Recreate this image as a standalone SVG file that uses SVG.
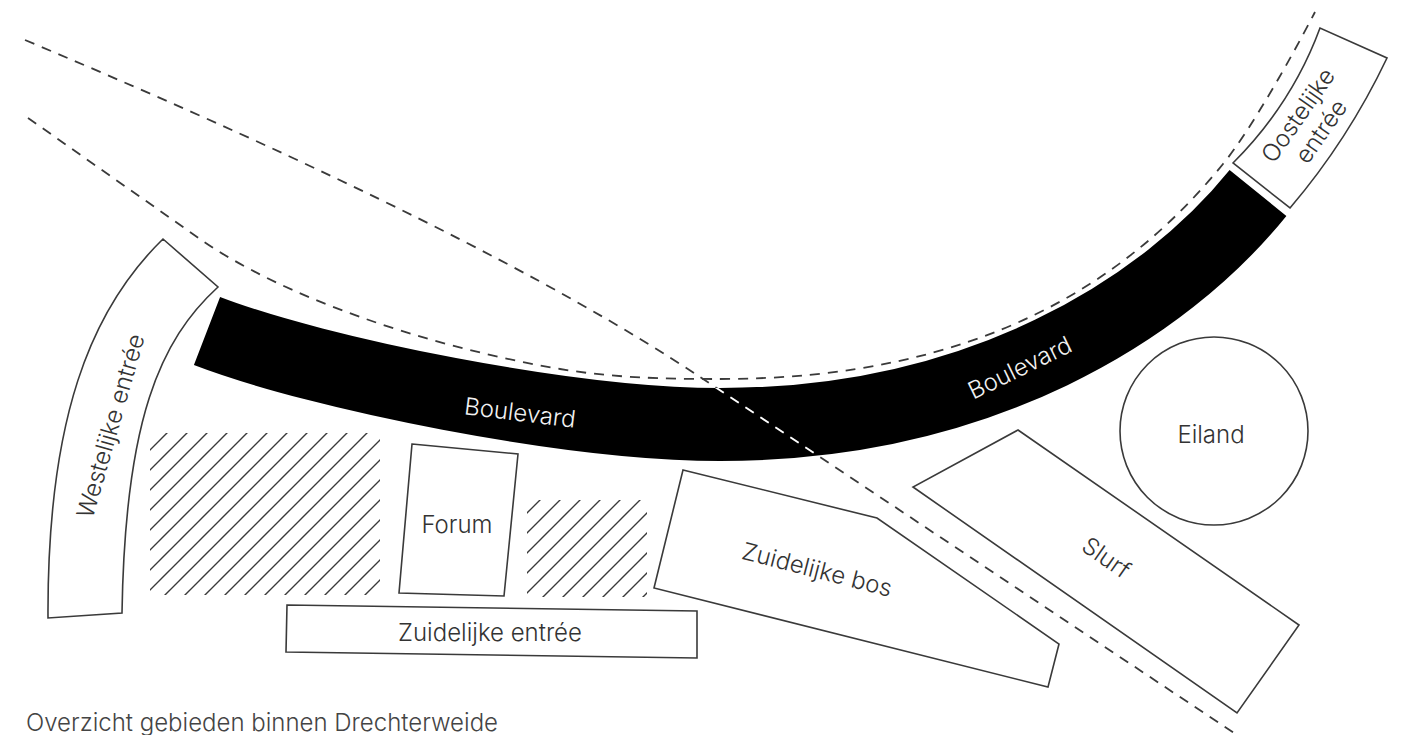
<svg xmlns="http://www.w3.org/2000/svg" width="1404" height="735" viewBox="0 0 1404 735">
<style>
.o{fill:#fff;stroke:#3a3a3a;stroke-width:1.6;stroke-linejoin:miter}
.d{fill:none;stroke:#3a3a3a;stroke-width:1.8;stroke-dasharray:10 8}
.t{font-family:Inter,"Noto Sans","Liberation Sans",sans-serif;font-size:24px;font-weight:300;fill:#333}
.tw{fill:#f2f2f2}
</style>
<defs>
<pattern id="h" patternUnits="userSpaceOnUse" width="20" height="20">
<path d="M-5,5 L5,-5 M0,20 L20,0 M15,25 L25,15" stroke="#3a3a3a" stroke-width="1.4"/>
</pattern>
<path id="bc" d="M207,331 C319,374 570,424.5 720,424.5 C980,424.5 1163.8,309.7 1258,193"/>
<path id="l1" d="M25,40 Q482,232 700,377 L1252,745"/>
<mask id="bm" maskUnits="userSpaceOnUse" x="0" y="0" width="1404" height="735">
<rect width="1404" height="735" fill="#000"/>
<use href="#bc" fill="none" stroke="#fff" stroke-width="73"/>
</mask>
</defs>
<rect width="1404" height="735" fill="#fff"/>

<g id="boulevard">
<use href="#bc" fill="none" stroke="#000" stroke-width="73"/>
<text class="t tw" text-anchor="middle" transform="translate(519,421) rotate(7)">Boulevard</text>
<text class="t tw" text-anchor="middle" transform="translate(1020,368) rotate(-26)" y="8">Boulevard</text>
</g>

<g id="westelijke-entree">
<path class="o" d="M163,239 L218,287 C160,340 125,420 122,613 L48,618 C47,420 90,310 163,239 Z"/>
<text class="t" text-anchor="middle" transform="translate(111,426) rotate(-74)" y="8">Westelijke entrée</text>
</g>

<g id="oostelijke-entree">
<path class="o" d="M1233,163 Q1292,104 1320,28 L1387,58 Q1348,140 1290,208 Z"/>
<text class="t" text-anchor="middle" transform="translate(1309,123) rotate(-55)"><tspan x="0" y="-5">Oostelijke</tspan><tspan x="0" y="23">entrée</tspan></text>
</g>

<g id="hatch-west">
<rect x="150" y="433" width="230" height="162" fill="url(#h)"/>
</g>
<g id="hatch-mid">
<rect x="527" y="500" width="120" height="97" fill="url(#h)"/>
</g>

<g id="forum">
<path class="o" d="M412,444 L518,454 L504,596 L399,593 Z"/>
<text class="t" text-anchor="middle" x="457" y="533">Forum</text>
</g>

<g id="zuidelijke-entree">
<path class="o" d="M287,605 L697,611 L697,658 L286,652 Z"/>
<text class="t" text-anchor="middle" x="490" y="641">Zuidelijke entrée</text>
</g>

<g id="zuidelijke-bos">
<path class="o" d="M683,470 L877,518 L1059,644 L1048,687 L654,588 Z"/>
<text class="t" text-anchor="middle" transform="translate(817,570) rotate(14.5)" y="8">Zuidelijke bos</text>
</g>

<g id="slurf">
<path class="o" d="M1018,430 L1299,625 L1237,713 L913,487 Z"/>
<text class="t" text-anchor="middle" transform="translate(1106,558) rotate(35)" y="8">Slurf</text>
</g>

<g id="eiland">
<circle class="o" cx="1214" cy="431" r="94"/>
<text class="t" text-anchor="middle" x="1211" y="443">Eiland</text>
</g>

<g id="connectors">
<use href="#l1" class="d"/>
<path class="d" d="M28,118 L200,239 C280,295 420,345 560,369 C620,379 680,379 720,379 C980,379 1128,281 1223,164 C1250,131 1290,60 1315,12"/>
<use href="#l1" class="d" style="stroke:#fff" mask="url(#bm)"/>
</g>

<g id="title">
<text class="t" x="26" y="731" style="fill:#444">Overzicht gebieden binnen Drechterweide</text>
</g>
</svg>
